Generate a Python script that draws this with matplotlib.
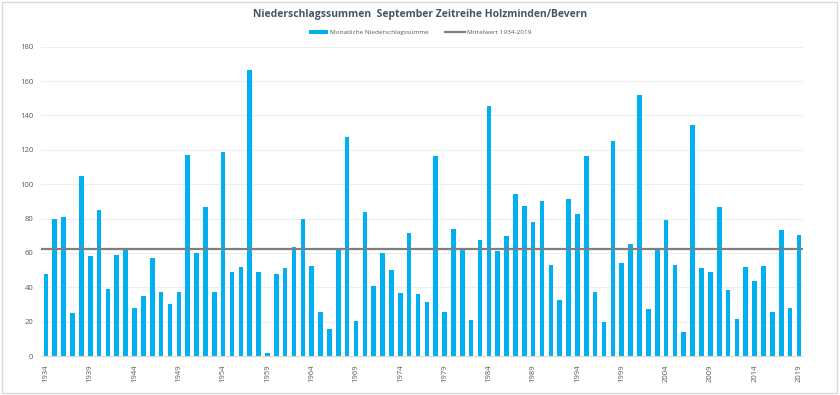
import matplotlib
matplotlib.use("Agg")
import matplotlib.pyplot as plt
from matplotlib.patches import Rectangle

years = list(range(1934, 2020))
precip = [48, 80, 81, 25, 105, 58, 85, 39, 59, 63,
          28, 35, 57, 37, 30, 37, 117, 60, 87, 37.5,
          119, 48.7, 52, 166.5, 49, 2, 47.5, 51.5, 63.5, 79.6,
          52.4, 25.4, 15.5, 62, 127.6, 20.4, 84, 40.7, 59.8, 50,
          36.5, 71.8, 36, 31.2, 116.2, 25.6, 74.1, 62, 21, 67.3,
          145.5, 60.9, 70, 94.5, 87.1, 78.2, 90.4, 52.8, 32.8, 91.4,
          82.5, 116.4, 37.3, 20, 125.1, 54, 65.4, 152.1, 27.4, 62,
          79.2, 52.8, 13.8, 134.6, 51.4, 48.7, 86.7, 38.2, 21.5, 51.6,
          43.6, 52.2, 25.4, 73.2, 28.1, 70.4]
mean_value = 62.3
yticks = list(range(0, 181, 20))
xtick_years = list(range(1934, 2020, 5))

title = "Niederschlagssummen  September Zeitreihe Holzminden/Bevern"
bar_label = "Monatliche Niederschlagssumme"
line_label = "Mittelwert 1934-2019"

plt.rcParams['font.family'] = ['Open Sans', 'DejaVu Sans']

fig = plt.figure(figsize=(8.4, 3.95), dpi=100)
ax = fig.add_axes([0.0494, 0.0987, 0.907, 0.7831])

pos = list(range(len(years)))
bars = ax.bar(pos, precip, width=0.52, color='#00B0F0', zorder=2, label=bar_label)
ax.axhline(mean_value, color='#7F7F7F', linewidth=1.6, zorder=3, label=line_label)

ax.set_xlim(-0.5, len(years) - 0.5)
ax.set_ylim(0, 180)
ax.set_yticks(yticks)
ax.set_yticklabels([str(t) for t in yticks])
tick_pos = [years.index(y) for y in xtick_years]
ax.set_xticks(tick_pos)
ax.set_xticklabels([str(y) for y in xtick_years], rotation=90)

ax.grid(axis='y', color='#EEEEEE', linewidth=0.8, zorder=0)
ax.set_axisbelow(True)
for s in ['top', 'right', 'left']:
    ax.spines[s].set_visible(False)
ax.spines['bottom'].set_color('#D9D9D9')
ax.spines['bottom'].set_linewidth(0.8)
ax.tick_params(axis='both', length=0, labelsize=5.5, labelcolor='#595959', pad=6)

fig.text(0.5, 0.963, title, ha='center', va='center', fontsize=7.5, fontweight='bold', color='#44546A')

fig.legend(handles=[bars, ax.lines[0]], labels=[bar_label, line_label],
           loc='center', bbox_to_anchor=(0.5, 0.918), ncol=2, frameon=False,
           fontsize=4.6, labelcolor='#595959', handlelength=3.0, handleheight=0.6,
           columnspacing=2.6, handletextpad=0.3)

fig.patches.append(Rectangle((0.002, 0.004), 0.994, 0.99, transform=fig.transFigure,
                             fill=False, edgecolor='#D9D9D9', linewidth=1.0))

fig.savefig('out.png', dpi=100)
